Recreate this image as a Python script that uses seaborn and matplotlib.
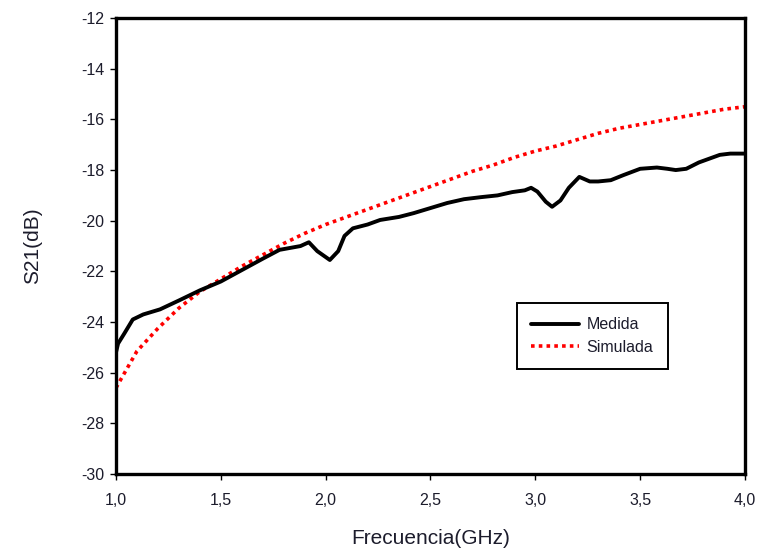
import matplotlib
matplotlib.use("Agg")
import matplotlib.pyplot as plt
import seaborn as sns
import pandas as pd
from matplotlib.ticker import FixedLocator, FixedFormatter

# Measured S21 (dB) versus frequency (GHz)
freq_medida = [1.00, 1.01, 1.04, 1.08, 1.13, 1.21, 1.30, 1.40, 1.50, 1.60,
               1.70, 1.78, 1.88, 1.92, 1.96, 2.02, 2.06, 2.09, 2.13, 2.20,
               2.26, 2.35, 2.42, 2.50, 2.58, 2.66, 2.74, 2.82, 2.89, 2.95,
               2.98, 3.01, 3.05, 3.08, 3.12, 3.16, 3.21, 3.26, 3.30, 3.36,
               3.42, 3.50, 3.58, 3.63, 3.67, 3.72, 3.78, 3.88, 3.93, 4.00]
s21_medida = [-25.2, -24.85, -24.45, -23.9, -23.7, -23.5, -23.15, -22.75, -22.4, -21.95,
              -21.5, -21.15, -21.0, -20.85, -21.2, -21.55, -21.2, -20.6, -20.3, -20.15,
              -19.97, -19.85, -19.7, -19.5, -19.3, -19.15, -19.07, -19.0, -18.87, -18.8,
              -18.7, -18.85, -19.25, -19.45, -19.2, -18.7, -18.27, -18.45, -18.45, -18.4,
              -18.2, -17.95, -17.9, -17.95, -18.0, -17.95, -17.7, -17.4, -17.35, -17.35]

# Simulated S21 (dB)
freq_simulada = [1.0, 1.1, 1.2, 1.3, 1.4, 1.5, 1.6, 1.7, 1.8, 1.9, 2.0,
                 2.1, 2.2, 2.3, 2.4, 2.5, 2.6, 2.7, 2.8, 2.9, 3.0,
                 3.1, 3.2, 3.3, 3.4, 3.5, 3.6, 3.7, 3.8, 3.9, 4.0]
s21_simulada = [-26.6, -25.15, -24.25, -23.45, -22.8, -22.3, -21.8, -21.35, -20.9, -20.5, -20.15,
                -19.85, -19.55, -19.25, -18.95, -18.65, -18.35, -18.05, -17.8, -17.5, -17.25,
                -17.05, -16.8, -16.55, -16.35, -16.2, -16.05, -15.9, -15.75, -15.6, -15.5]

x_ticks = [1.0, 1.5, 2.0, 2.5, 3.0, 3.5, 4.0]
x_tick_labels = ["1,0", "1,5", "2,0", "2,5", "3,0", "3,5", "4,0"]
y_ticks = [-30, -28, -26, -24, -22, -20, -18, -16, -14, -12]
y_tick_labels = ["-30", "-28", "-26", "-24", "-22", "-20", "-18", "-16", "-14", "-12"]

sns.set_theme(style="white")
plt.rcParams["font.family"] = ["Liberation Sans", "DejaVu Sans"]

df_med = pd.DataFrame({"f": freq_medida, "s21": s21_medida})
df_sim = pd.DataFrame({"f": freq_simulada, "s21": s21_simulada})

fig = plt.figure(figsize=(7.6, 5.48), dpi=100)
ax = fig.add_axes([0.1526, 0.135, 0.8276, 0.832])

sns.lineplot(data=df_sim, x="f", y="s21", ax=ax, color="#ff0000",
             linewidth=2.6, linestyle=(0, (1, 1.15)), label="Simulada", zorder=2)
sns.lineplot(data=df_med, x="f", y="s21", ax=ax, color="black",
             linewidth=2.8, label="Medida", zorder=3)

ax.set_xlim(1.0, 4.0)
ax.set_ylim(-30, -12)
ax.xaxis.set_major_locator(FixedLocator(x_ticks))
ax.xaxis.set_major_formatter(FixedFormatter(x_tick_labels))
ax.yaxis.set_major_locator(FixedLocator(y_ticks))
ax.yaxis.set_major_formatter(FixedFormatter(y_tick_labels))

text_color = "#1c1c2c"
ax.tick_params(axis="both", direction="out", length=4.5, width=1, color="black",
               labelsize=11.5, labelcolor=text_color, bottom=True, left=True)
ax.tick_params(axis="x", pad=9)
ax.tick_params(axis="y", pad=4)
for side in ax.spines.values():
    side.set_linewidth(2.4)
    side.set_color("black")

ax.set_xlabel("Frecuencia(GHz)", fontsize=15, color=text_color, labelpad=15)
ax.set_ylabel("S21(dB)", fontsize=15, color=text_color, labelpad=28)

handles, labels = ax.get_legend_handles_labels()
order = [labels.index("Medida"), labels.index("Simulada")]
leg = ax.legend([handles[i] for i in order], [labels[i] for i in order],
                loc="upper left", bbox_to_anchor=(0.6375, 0.375),
                frameon=True, fancybox=False, framealpha=1, edgecolor="black",
                fontsize=11.5, handlelength=3.0, handletextpad=0.45,
                borderpad=0.9, labelspacing=0.45, borderaxespad=0)
leg.get_frame().set_linewidth(1.4)
for t in leg.get_texts():
    t.set_color(text_color)

fig.savefig("out.png", dpi=100)
